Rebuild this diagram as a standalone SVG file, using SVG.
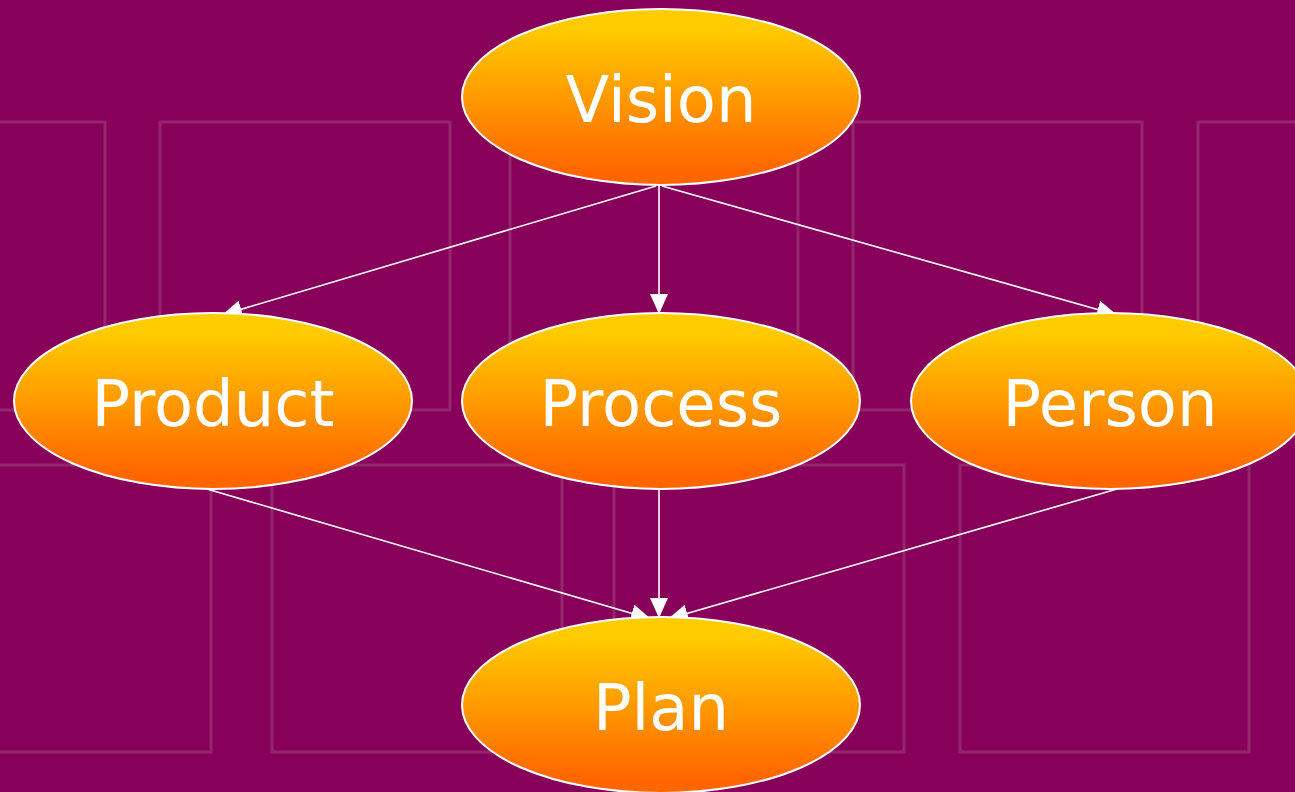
<svg xmlns="http://www.w3.org/2000/svg" width="1295" height="792" viewBox="0 0 1295 792">
<style>
.bg{fill:none;stroke:#94276c;stroke-width:3}
.node{fill:url(#g);stroke:#fff;stroke-width:2}
.lbl{fill:#fff;font-family:"DejaVu Sans",Verdana,sans-serif;font-size:64px;text-anchor:middle}
.edge{stroke:#fff;stroke-width:1.6;fill:none;marker-end:url(#arr)}
</style>
<defs>
<linearGradient id="g" x1="0" y1="0" x2="0" y2="1">
<stop offset="0.1" stop-color="#ffcc00"/>
<stop offset="0.92" stop-color="#ff6600"/>
</linearGradient>
<marker id="arr" viewBox="0 0 20 18" refX="20" refY="9" markerWidth="20" markerHeight="18" markerUnits="userSpaceOnUse" orient="auto">
<path d="M0,0 L20,9 L0,18 Z" fill="#fff"/>
</marker>
</defs>
<rect width="1295" height="792" fill="#87005a"/>
<g id="background">
<rect class="bg" x="-20" y="122" width="125" height="288"/>
<rect class="bg" x="160" y="122" width="290" height="288"/>
<rect class="bg" x="510" y="122" width="288" height="288"/>
<rect class="bg" x="853" y="122" width="289" height="288"/>
<rect class="bg" x="1198" y="122" width="120" height="288"/>
<rect class="bg" x="-20" y="465" width="231" height="287"/>
<rect class="bg" x="272" y="465" width="290" height="287"/>
<rect class="bg" x="614" y="465" width="290" height="287"/>
<rect class="bg" x="960" y="465" width="289" height="287"/>
</g>
<g id="connectors">
<line class="edge" x1="656" y1="186" x2="222" y2="315"/>
<line class="edge" x1="659" y1="186" x2="659" y2="314"/>
<line class="edge" x1="662" y1="186" x2="1117" y2="315"/>
<line class="edge" x1="207" y1="489" x2="651" y2="619"/>
<line class="edge" x1="659" y1="489" x2="659" y2="618"/>
<line class="edge" x1="1117" y1="489" x2="668" y2="619"/>
</g>
<g id="vision">
<ellipse class="node" cx="661" cy="97" rx="199" ry="88"/>
<text class="lbl" x="661" y="122">Vision</text>
</g>
<g id="product">
<ellipse class="node" cx="213" cy="401" rx="199" ry="88"/>
<text class="lbl" x="213" y="426">Product</text>
</g>
<g id="process">
<ellipse class="node" cx="661" cy="401" rx="199" ry="88"/>
<text class="lbl" x="661" y="426">Process</text>
</g>
<g id="person">
<ellipse class="node" cx="1110" cy="401" rx="199" ry="88"/>
<text class="lbl" x="1110" y="426">Person</text>
</g>
<g id="plan">
<ellipse class="node" cx="661" cy="705" rx="199" ry="88"/>
<text class="lbl" x="661" y="730">Plan</text>
</g>
</svg>
